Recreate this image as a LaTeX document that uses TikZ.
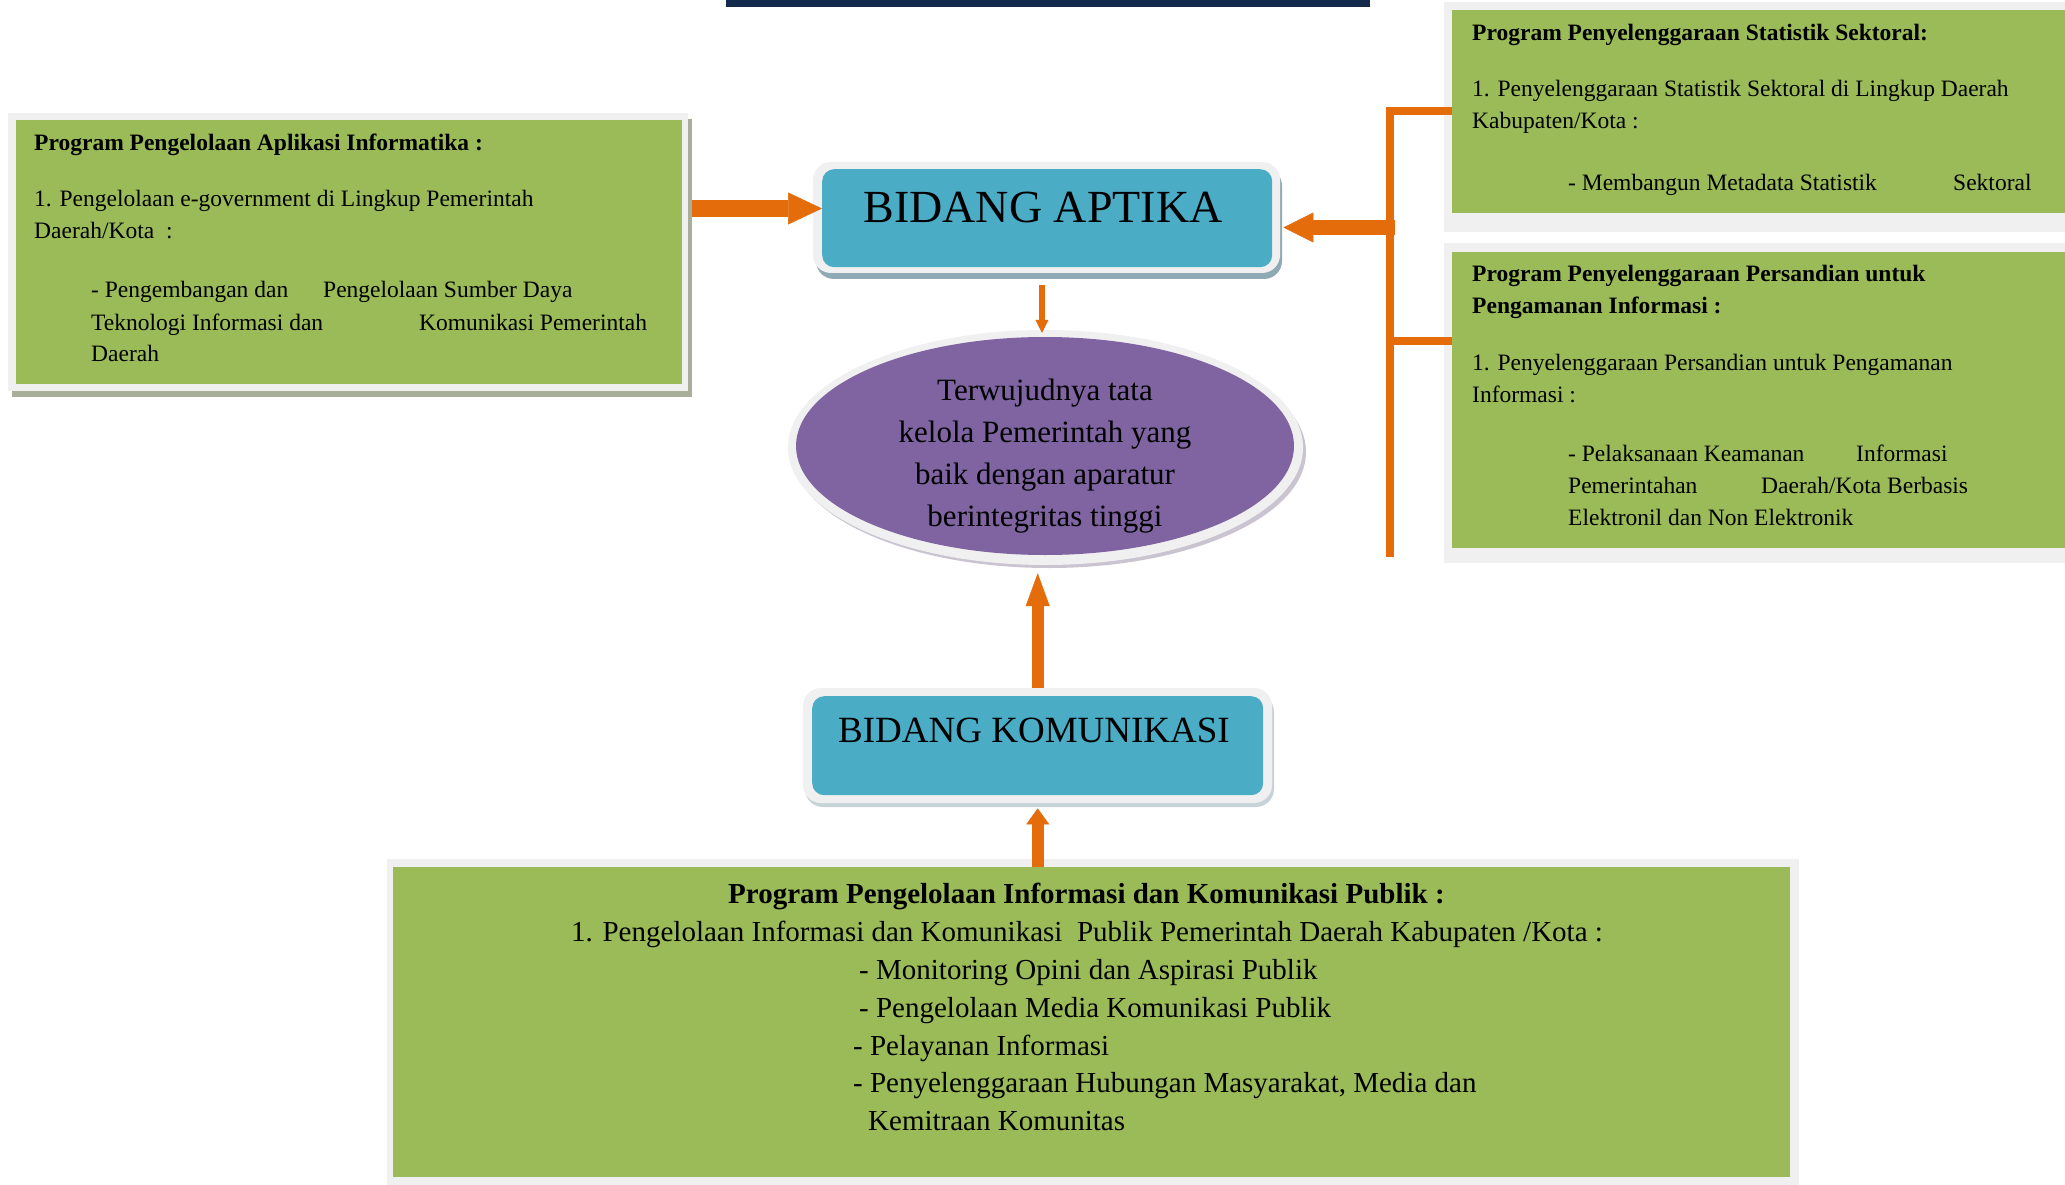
\documentclass[tikz,border=0pt]{standalone}
\usepackage{fontspec}
\setmainfont{Liberation Serif}
\usetikzlibrary{arrows.meta,shapes.geometric}
\definecolor{gbox}{HTML}{9BBB59}
\definecolor{frm}{HTML}{F0F0F0}
\definecolor{gshadow}{HTML}{A8AE97}
\definecolor{tealc}{HTML}{4BACC6}
\definecolor{tshadowA}{HTML}{8FAAB4}
\definecolor{tshadowK}{HTML}{C6D4D9}
\definecolor{purp}{HTML}{8064A2}
\definecolor{eshadow}{HTML}{CAC4D0}
\definecolor{orng}{HTML}{E46C0A}
\definecolor{navy}{HTML}{142A4C}
\tikzset{
  gnode/.style={fill=gbox, draw=none, inner sep=0pt, anchor=north west},
  tnode/.style={fill=tealc, draw=none, inner sep=0pt, anchor=north west, rounded corners=12pt},
  tx/.style={anchor=base west, inner sep=0pt, font=\fontsize{23.5}{32}\selectfont},
  txb/.style={anchor=base west, inner sep=0pt, font=\bfseries\fontsize{23.5}{32}\selectfont},
  btx/.style={anchor=base west, inner sep=0pt, font=\fontsize{29}{38}\selectfont},
  btxb/.style={anchor=base west, inner sep=0pt, font=\bfseries\fontsize{29}{38}\selectfont},
  ctx/.style={anchor=base, inner sep=0pt, font=\fontsize{31}{42}\selectfont},
  conn/.style={draw=orng, line width=8pt},
}
\begin{document}
\begin{tikzpicture}[x=1pt,y=-1pt]
\useasboundingbox (0,0) rectangle (2065,1185);
\begin{scope}
\clip (0,0) rectangle (2065,1185);
\fill[white] (0,0) rectangle (2065,1185);
% title underline
\fill[navy] (726,0) rectangle (1370,7);

% left box
\fill[gshadow] (12,119) rectangle (692,397);
\fill[frm] (8,113) rectangle (688,391);
\node[gnode, minimum width=666pt, minimum height=264pt] (lbox) at (16,120) {};

% right boxes
\fill[frm] (1444,2) rectangle (2100,232);
\node[gnode, minimum width=700pt, minimum height=203pt] (rbox1) at (1452,10) {};
\fill[frm] (1444,243) rectangle (2100,563);
\node[gnode, minimum width=700pt, minimum height=296pt] (rbox2) at (1452,252) {};

% bottom box
\fill[frm] (387,859) rectangle (1799,1190);
\node[gnode, minimum width=1397pt, minimum height=310pt] (bbox) at (393,867) {};

% BIDANG APTIKA
\fill[tshadowA, rounded corners=18pt] (816,168) rectangle (1282,279);
\fill[frm, rounded corners=18pt] (813,162) rectangle (1280,273);
\node[tnode, minimum width=450pt, minimum height=98pt] (aptika) at (822,169) {};
\node[inner sep=0pt, font=\fontsize{46}{50}\selectfont] (aptikaT) at (1043,207) {BIDANG APTIKA};

% BIDANG KOMUNIKASI
\fill[tshadowK, rounded corners=18pt] (805,694) rectangle (1274,807);
\fill[frm, rounded corners=18pt] (803,688) rectangle (1272,803);
\node[tnode, minimum width=451pt, minimum height=99pt] (kom) at (812,696) {};
\node[inner sep=0pt, font=\fontsize{37}{42}\selectfont] (komT) at (1034,730) {BIDANG KOMUNIKASI};

% goal ellipse
\fill[eshadow] (1049,452) ellipse [x radius=257, y radius=116];
\fill[frm] (1045.5,447.5) ellipse [x radius=257.5, y radius=117.5];
\node[ellipse, fill=purp, draw=none, minimum width=498pt, minimum height=218pt, inner sep=0pt] (goal) at (1045,446) {};
\node[ctx] (e1) at (1045,400) {Terwujudnya tata};
\node[ctx] (e2) at (1045,442) {kelola Pemerintah yang};
\node[ctx] (e3) at (1045,484) {baik dengan aparatur};
\node[ctx] (e4) at (1045,526) {berintegritas tinggi};

% left box text
\node[txb] (l1) at (34,151) {Program Pengelolaan Aplikasi Informatika :};
\node[tx] (l2) at (34,207) {1. Pengelolaan e-government di Lingkup Pemerintah};
\node[tx] (l3) at (34,239) {Daerah/Kota\ \ :};
\node[tx] (l4a) at (91,298) {- Pengembangan dan};
\node[tx] (l4b) at (323,298) {Pengelolaan Sumber Daya};
\node[tx] (l5a) at (91,330) {Teknologi Informasi dan};
\node[tx] (l5b) at (419,330) {Komunikasi Pemerintah};
\node[tx] (l6) at (91,361) {Daerah};

% right box 1 text
\node[txb] (r1) at (1472,41) {Program Penyelenggaraan Statistik Sektoral:};
\node[tx] (r2) at (1472,97) {1. Penyelenggaraan Statistik Sektoral di Lingkup Daerah};
\node[tx] (r3) at (1472,129) {Kabupaten/Kota :};
\node[tx] (r4a) at (1568,191) {- Membangun Metadata Statistik};
\node[tx] (r4b) at (1953,191) {Sektoral};

% right box 2 text
\node[txb] (s1) at (1472,281) {Program Penyelenggaraan Persandian untuk};
\node[txb] (s2) at (1472,313) {Pengamanan Informasi :};
\node[tx] (s3) at (1472,370) {1. Penyelenggaraan Persandian untuk Pengamanan};
\node[tx] (s4) at (1472,402) {Informasi :};
\node[tx] (s5a) at (1568,461) {- Pelaksanaan Keamanan};
\node[tx] (s5b) at (1856,461) {Informasi};
\node[tx] (s6a) at (1568,493) {Pemerintahan};
\node[tx] (s6b) at (1761,493) {Daerah/Kota Berbasis};
\node[tx] (s7) at (1568,525) {Elektronil dan Non Elektronik};

% bottom box text
\node[btxb] (b1) at (728,903) {Program Pengelolaan Informasi dan Komunikasi Publik :};
\node[btx] (b2) at (571,941) {1. Pengelolaan Informasi dan Komunikasi\ \ Publik Pemerintah Daerah Kabupaten /Kota :};
\node[btx] (b3) at (859,979) {- Monitoring Opini dan Aspirasi Publik};
\node[btx] (b4) at (859,1017) {- Pengelolaan Media Komunikasi Publik};
\node[btx] (b5) at (853,1055) {- Pelayanan Informasi};
\node[btx] (b6) at (853,1092) {- Penyelenggaraan Hubungan Masyarakat, Media dan};
\node[btx] (b7) at (868,1130) {Kemitraan Komunitas};

% connectors
\coordinate (la) at (0,208.5);
\coordinate (ra) at (0,227.5);
\coordinate (brt) at (1390,111);
\coordinate (brb) at (1390,557);
\coordinate (b2y) at (0,341);

\draw[orng, line width=17pt, -{Triangle[length=34pt,width=32pt,line width=0.5pt]}]
  ([xshift=10pt]lbox.east |- la) -- (aptika.west |- la);

\draw[conn] (rbox1.west |- brt) -- (brt) -- (brb);
\draw[conn] (brt |- b2y) -- (rbox2.west |- b2y);
\draw[orng, line width=15pt, -{Triangle[length=30pt,width=30pt,line width=0.5pt]}]
  ([xshift=5pt]brt |- ra) -- ([xshift=11pt]aptika.east |- ra);

\draw[orng, line width=6pt, -{Triangle[length=13pt,width=13pt,line width=0.5pt]}]
  ([xshift=-3pt,yshift=-18pt]aptika.south -| goal.north) -- ([xshift=-3pt,yshift=4pt]goal.north);

\draw[orng, line width=12pt, -{Triangle[length=33pt,width=24pt,line width=0.5pt]}]
  ([yshift=8pt]kom.north) -- ([yshift=-18pt]goal.south -| kom.north);

\draw[orng, line width=12pt, -{Triangle[length=16pt,width=23pt,line width=0.5pt]}]
  (kom.south |- bbox.north) -- ([yshift=-13pt]kom.south);
\end{scope}
\end{tikzpicture}
\end{document}
